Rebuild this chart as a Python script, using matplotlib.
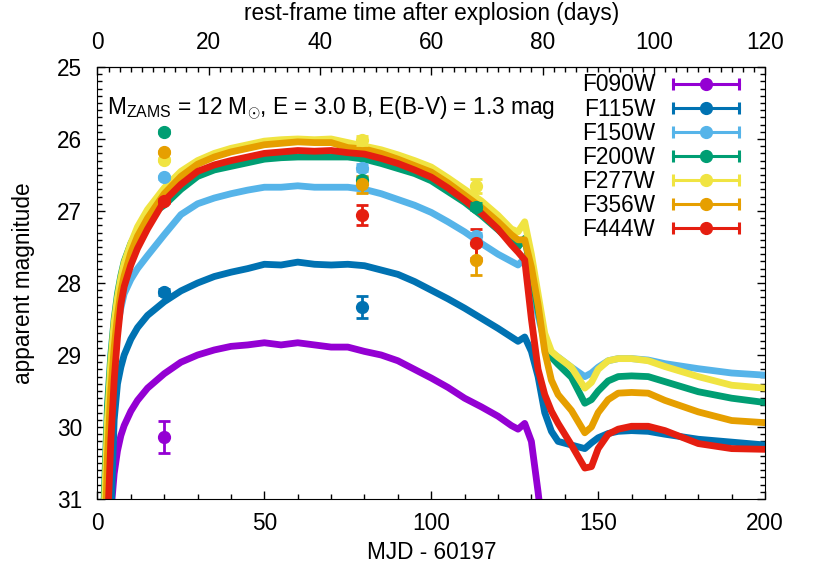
import numpy as np
import matplotlib
matplotlib.use("Agg")
import matplotlib.pyplot as plt
from matplotlib.lines import Line2D
from matplotlib.legend_handler import HandlerLine2D, HandlerTuple
from matplotlib.ticker import MultipleLocator, FixedLocator

plt.rcParams["font.family"] = ["Liberation Sans", "DejaVu Sans"]
plt.rcParams["mathtext.fontset"] = "custom"
plt.rcParams["mathtext.rm"] = "Liberation Sans"
plt.rcParams["mathtext.it"] = "Liberation Sans"

# model light curves (MJD - 60197)
t_model = [2, 3, 4, 5, 6, 7, 8, 10, 12, 15, 20, 25, 30, 35, 40, 45, 50, 55, 60, 65,
           70, 75, 80, 85, 90, 95, 100, 105, 110, 115, 120, 124, 126, 128, 130, 132,
           134, 136, 138, 142, 146, 148, 150, 153, 156, 160, 165, 170, 180, 190, 200]

nan = np.nan
m_f090w = [34.0, 32.5, 31.2, 30.65, 30.33, 30.12, 29.98, 29.78, 29.63, 29.46, 29.26,
           29.1, 29.0, 28.93, 28.88, 28.86, 28.83, 28.86, 28.83, 28.86, 28.89, 28.89,
           28.95, 29.0, 29.08, 29.2, 29.32, 29.45, 29.6, 29.72, 29.85, 29.98, 30.03,
           29.95, 30.2, 30.9, 31.7, 32.5, nan, nan, nan, nan, nan, nan, nan, nan, nan,
           nan, nan, nan, nan]
m_f115w = [34.0, 32.5, 31.3, 29.9, 29.4, 29.17, 29.0, 28.78, 28.62, 28.45, 28.26,
           28.11, 28.0, 27.91, 27.85, 27.8, 27.74, 27.75, 27.71, 27.74, 27.75, 27.74,
           27.76, 27.82, 27.88, 27.98, 28.1, 28.22, 28.35, 28.49, 28.63, 28.75, 28.81,
           28.75, 28.95, 29.3, 29.8, 30.06, 30.2, 30.25, 30.3, 30.22, 30.15, 30.09,
           30.06, 30.05, 30.06, 30.1, 30.17, 30.21, 30.25]
m_f150w = [31.8, 30.2, 29.4, 28.95, 28.6, 28.35, 28.15, 27.95, 27.8, 27.62, 27.33,
           27.05, 26.9, 26.82, 26.76, 26.71, 26.67, 26.67, 26.65, 26.67, 26.67, 26.67,
           26.7, 26.76, 26.84, 26.92, 27.02, 27.15, 27.29, 27.45, 27.6, 27.7, 27.75,
           27.66, 28.0, 28.45, 28.82, 28.97, 29.03, 29.17, 29.3, 29.25, 29.17, 29.08,
           29.05, 29.05, 29.07, 29.12, 29.19, 29.25, 29.28]
m_f200w = [31.0, 29.7, 29.0, 28.5, 28.15, 27.9, 27.7, 27.45, 27.27, 27.08, 26.92,
           26.7, 26.52, 26.43, 26.38, 26.33, 26.28, 26.26, 26.25, 26.25, 26.25, 26.25,
           26.28, 26.34, 26.41, 26.48, 26.58, 26.73, 26.88, 27.06, 27.26, 27.43, 27.5,
           27.38, 27.85, 28.38, 28.8, 29.03, 29.13, 29.31, 29.67, 29.62, 29.5, 29.36,
           29.3, 29.29, 29.3, 29.37, 29.51, 29.6, 29.66]
m_f277w = [31.2, 29.9, 29.1, 28.55, 28.2, 27.93, 27.72, 27.45, 27.22, 26.98, 26.68,
           26.45, 26.3, 26.2, 26.13, 26.08, 26.03, 26.01, 26.0, 26.01, 26.0, 26.05,
           26.1, 26.15, 26.22, 26.3, 26.39, 26.54, 26.7, 26.86, 27.06, 27.25, 27.29,
           27.15, 27.6, 28.15, 28.7, 28.95, 29.03, 29.17, 29.46, 29.38, 29.2, 29.08,
           29.05, 29.05, 29.08, 29.16, 29.3, 29.42, 29.46]
m_f356w = [32.0, 30.4, 29.5, 28.9, 28.45, 28.12, 27.9, 27.58, 27.35, 27.1, 26.76,
           26.52, 26.35, 26.25, 26.18, 26.13, 26.08, 26.06, 26.04, 26.05, 26.05, 26.12,
           26.14, 26.2, 26.28, 26.37, 26.46, 26.61, 26.78, 26.95, 27.15, 27.33, 27.4,
           27.4, 27.78, 28.3, 28.95, 29.35, 29.55, 29.77, 30.08, 30.0, 29.8, 29.62,
           29.53, 29.52, 29.53, 29.63, 29.79, 29.91, 29.94]
m_f444w = [33.0, 31.4, 30.2, 29.35, 28.75, 28.3, 28.05, 27.75, 27.52, 27.25, 26.86,
           26.63, 26.45, 26.36, 26.3, 26.25, 26.2, 26.18, 26.16, 26.17, 26.16, 26.19,
           26.21, 26.27, 26.34, 26.43, 26.53, 26.68, 26.85, 27.03, 27.25, 27.47, 27.57,
           27.68, 28.5, 29.2, 29.55, 29.78, 29.95, 30.25, 30.57, 30.55, 30.3, 30.1,
           30.03, 29.99, 29.99, 30.05, 30.23, 30.3, 30.31]

# JWST photometry
t_f090w, o_f090w, e_f090w = [19.8], [30.14], [0.22]
t_f115w, o_f115w, e_f115w = [19.8, 79.3], [28.12, 28.33], [0.04, 0.15]
t_f150w, o_f150w, e_f150w = [19.8, 79.3, 113.4], [26.53, 26.40, 27.35], [0.02, 0.05, 0.05]
t_f200w, o_f200w, e_f200w = [19.8, 79.3, 113.4], [25.90, 26.57, 26.94], [0.02, 0.04, 0.05]
t_f277w, o_f277w, e_f277w = [19.8, 79.3, 113.4], [26.29, 26.02, 26.65], [0.02, 0.06, 0.10]
t_f356w, o_f356w, e_f356w = [19.8, 79.3, 113.4], [26.18, 26.63, 27.68], [0.02, 0.12, 0.21]
t_f444w, o_f444w, e_f444w = [19.8, 79.3, 113.4], [26.86, 27.05, 27.45], [0.03, 0.14, 0.20]

filters = ["F090W", "F115W", "F150W", "F200W", "F277W", "F356W", "F444W"]
colors = ["#9400d3", "#0072b2", "#56b4e9", "#009e73", "#f0e442", "#e69f00", "#e51e10"]
models = [m_f090w, m_f115w, m_f150w, m_f200w, m_f277w, m_f356w, m_f444w]
obs = [(t_f090w, o_f090w, e_f090w), (t_f115w, o_f115w, e_f115w),
       (t_f150w, o_f150w, e_f150w), (t_f200w, o_f200w, e_f200w),
       (t_f277w, o_f277w, e_f277w), (t_f356w, o_f356w, e_f356w),
       (t_f444w, o_f444w, e_f444w)]

fs = 16.3

fig = plt.figure(figsize=(8.17, 5.72), dpi=100)
ax = fig.add_axes([0.1193, 0.1276, 0.8171, 0.7553])

for m, c in zip(models, colors):
    ax.plot(t_model, m, color=c, lw=4.9, zorder=2, solid_joinstyle="round")

for (t, o, e), c in zip(obs, colors):
    ax.errorbar(t, o, yerr=e, fmt="o", color=c, ms=8.5, elinewidth=2,
                capsize=4, capthick=2, zorder=3)

ax.set_xlim(0, 200)
ax.set_ylim(31, 25)
ax.xaxis.set_major_locator(MultipleLocator(50))
ax.xaxis.set_minor_locator(MultipleLocator(10))
ax.yaxis.set_major_locator(MultipleLocator(1))
ax.yaxis.set_minor_locator(MultipleLocator(0.1))
ax.tick_params(which="both", direction="in", labelsize=fs, right=True)
ax.tick_params(axis="x", which="both", top=False)
ax.tick_params(which="major", length=6, width=1)
ax.tick_params(which="minor", length=3.5, width=1)
ax.tick_params(axis="x", pad=9)
ax.tick_params(axis="y", pad=11)
ax.set_xlabel("MJD - 60197", fontsize=fs, labelpad=5)
ax.set_ylabel("apparent magnitude", fontsize=fs, labelpad=16)

top = ax.secondary_xaxis("top", functions=(lambda x: x * 0.6, lambda x: x / 0.6))
top.xaxis.set_major_locator(FixedLocator([0, 20, 40, 60, 80, 100, 120]))
top.xaxis.set_minor_locator(FixedLocator(list(range(0, 121, 2))))
top.tick_params(which="both", direction="in", labelsize=fs, pad=9)
top.tick_params(which="major", length=6, width=1)
top.tick_params(which="minor", length=3.5, width=1)
top.set_xlabel("rest-frame time after explosion (days)", fontsize=fs, labelpad=8)

ax.text(0.015, 0.905, r"M$_{\mathrm{ZAMS}}$ = 12 M$_{\odot}$, E = 3.0 B, E(B-V) = 1.3 mag",
        transform=ax.transAxes, fontsize=fs, va="center", ha="left")

handles, hmap = [], {}
for c in colors:
    cap = Line2D([], [], color=c, lw=2.2, marker="|", ms=8, mew=2.2)
    dot = Line2D([], [], color=c, lw=0, marker="o", ms=8.5)
    hmap[cap] = HandlerLine2D(numpoints=2, marker_pad=0)
    hmap[dot] = HandlerLine2D(numpoints=1)
    handles.append((cap, dot))
hmap[tuple] = HandlerTuple(ndivide=1, pad=0)
ax.legend(handles, filters, handler_map=hmap, loc="upper right",
          bbox_to_anchor=(0.961, 0.985), frameon=False, fontsize=fs,
          markerfirst=False, handlelength=2.9, handletextpad=0.8,
          labelspacing=0.05, borderpad=0, borderaxespad=0)

plt.savefig("out.png", dpi=100)
